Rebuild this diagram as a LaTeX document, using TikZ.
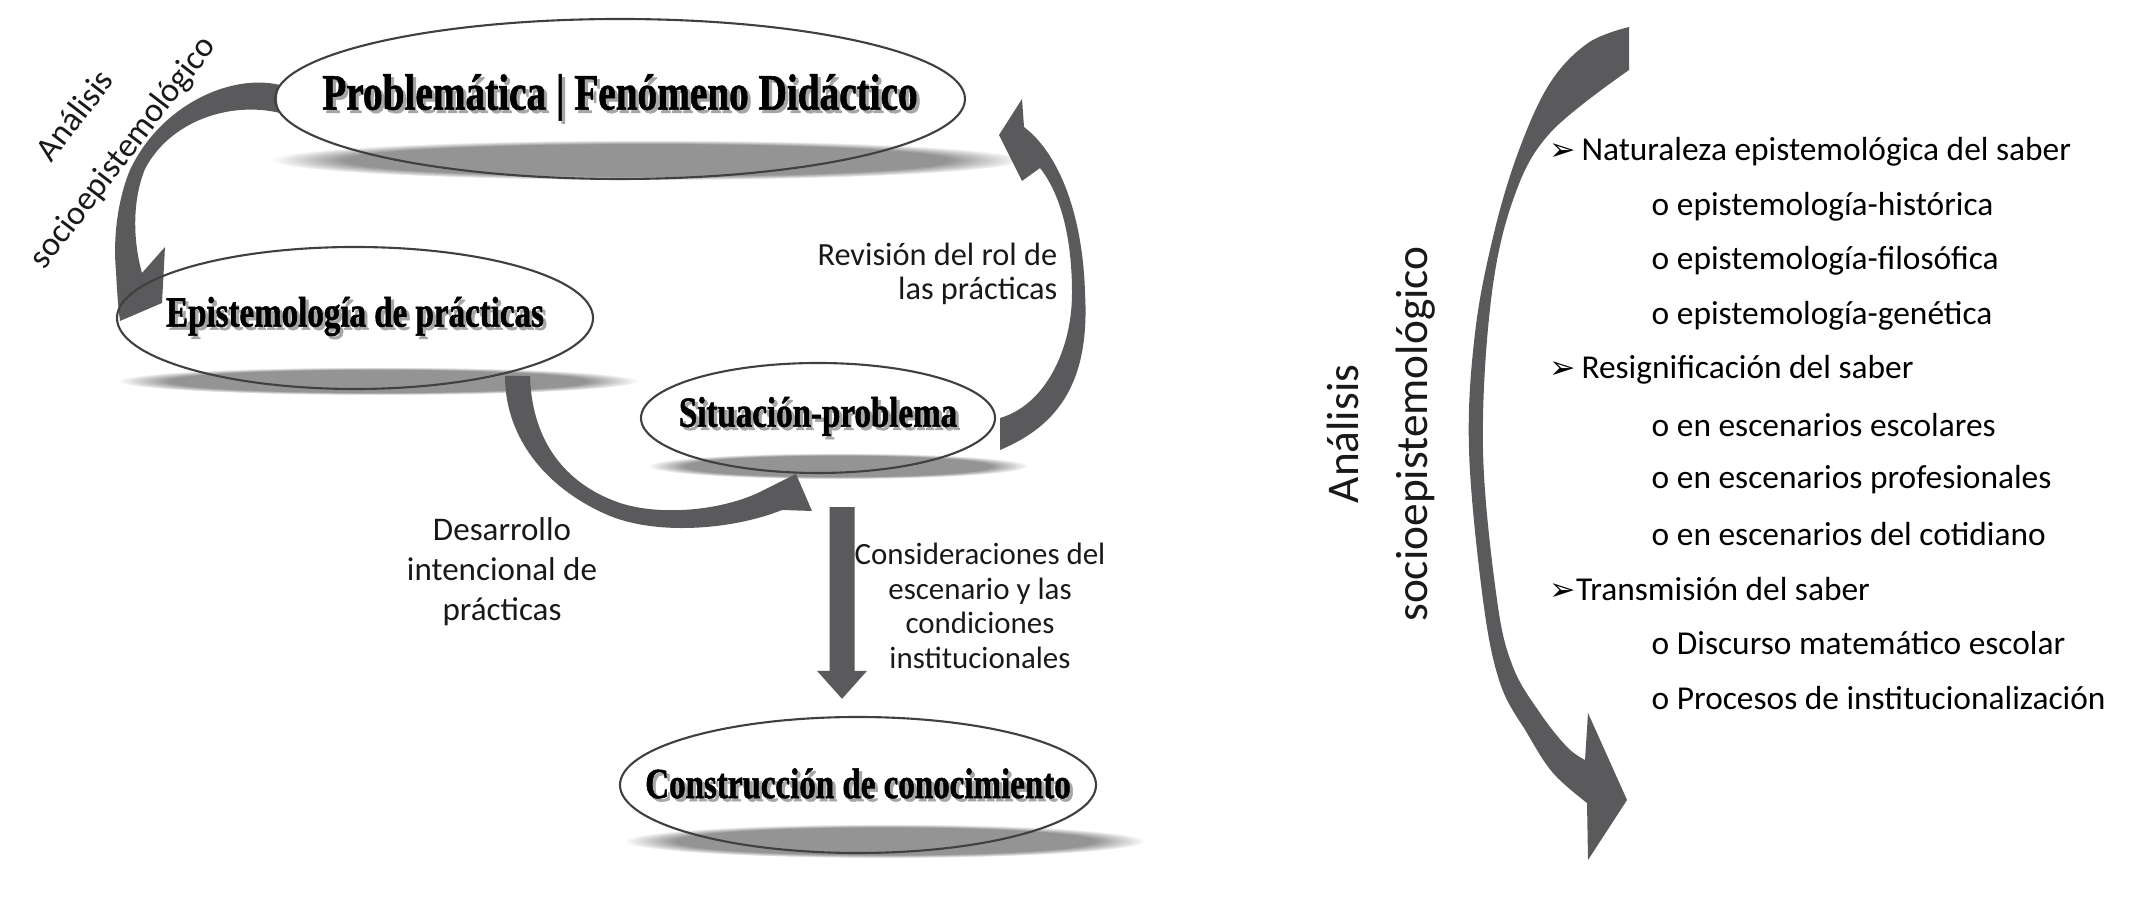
\documentclass[tikz,border=0pt]{standalone}
\usepackage{fontspec}
\setmainfont{Carlito}
\newfontfamily\slabfont[FakeStretch=0.77, BoldFeatures={FakeBold=1.2}]{Liberation Serif}
\newfontfamily\dingfont{DejaVu Sans}
\usepackage{tikz}
\usetikzlibrary{shapes.geometric, positioning, arrows.meta, backgrounds, fadings}
\definecolor{arrowgray}{RGB}{90,90,92}
\pgfdeclareradialshading{nodeglow}{\pgfpoint{0bp}{0bp}}{color(0bp)=(white); color(41bp)=(white); color(50bp)=(black!20)}
\newcommand{\sdw}[1]{\makebox[0pt]{\rlap{\hspace{0.9pt}\raisebox{-0.9pt}{\color{black!35}#1}}#1}}
\newcommand{\mk}{{\dingfont\fontsize{9}{9}\selectfont ➢}}

\begin{document}
\begin{tikzpicture}[
    idea/.style={ellipse, draw=black!75, line width=0.6pt, inner sep=0pt,
        font=\slabfont\bfseries\fontsize{12.2}{14}\selectfont},
    glow/.style={shading=nodeglow},
    shadowband/.style={fill=black!42, path fading=circle with fuzzy edge 20 percent},
    note/.style={align=center, inner sep=0pt, text=black!90},
    lst/.style={anchor=west, inner sep=0pt, font=\fontsize{9.5}{11}\selectfont},
    bar/.style={arrowgray, line width=0.25cm, -{Triangle[width=0.48cm, length=0.28cm]}}
]
\useasboundingbox (0,0) rectangle (21.31,9.01);

\node[idea, minimum width=6.9cm, minimum height=1.6cm,
    font=\slabfont\bfseries\fontsize{14.5}{16}\selectfont] (prob) at (6.20,8.02) {\sdw{Problemática | Fenómeno Didáctico}};
\node[idea, minimum width=4.76cm, minimum height=1.42cm] (epi) at (3.55,5.83) {\sdw{Epistemología de prácticas}};
\node[idea, minimum width=3.54cm, minimum height=1.10cm] (sit) at (8.18,4.83) {\sdw{Situación-problema}};
\node[idea, minimum width=4.76cm, minimum height=1.36cm] (con) at (8.58,1.16) {\sdw{Construcción de conocimiento}};

\node[note, rotate=52.5, font=\fontsize{9.7}{17}\selectfont] (lblsocio) at (1.00,7.66) {Análisis\\socioepistemológico};
\node[note, align=right, anchor=east, font=\fontsize{9.2}{9.6}\selectfont] (lblrev) at (10.58,6.27) {Revisión del rol de\\las prácticas};
\node[note, font=\fontsize{9.4}{11.4}\selectfont] (lbldes) at (5.02,3.29) {Desarrollo\\intencional de\\prácticas};
\node[note, font=\fontsize{8.8}{9.8}\selectfont] (lblcon) at (9.80,2.95) {Consideraciones del\\escenario y las\\condiciones\\institucionales};

\draw[bar] ([xshift=0.24cm,yshift=-0.33cm]sit.south) -- ([xshift=-0.16cm,yshift=0.17cm]con.north);

\begin{scope}[on background layer]
    \shade[glow] (prob.center) ellipse [x radius=3.45cm, y radius=0.8cm];
    \shade[glow] (epi.center) ellipse [x radius=2.38cm, y radius=0.71cm];
    \shade[glow] (sit.center) ellipse [x radius=1.77cm, y radius=0.55cm];
    \shade[glow] (con.center) ellipse [x radius=2.38cm, y radius=0.68cm];

    \fill[shadowband] ([xshift=0.27cm,yshift=-0.61cm]prob.center) ellipse [x radius=3.75cm, y radius=0.2cm];
    \fill[shadowband] ([xshift=0.23cm,yshift=-0.63cm]epi.center) ellipse [x radius=2.6cm, y radius=0.14cm];
    \fill[shadowband] ([xshift=0.20cm,yshift=-0.48cm]sit.center) ellipse [x radius=1.9cm, y radius=0.13cm];
    \fill[shadowband] ([xshift=0.27cm,yshift=-0.56cm]con.center) ellipse [x radius=2.6cm, y radius=0.17cm];

    % curved arrows
    \fill[arrowgray] (2.80,8.16) .. controls (2.30,8.28) and (1.60,7.95) .. (1.30,7.31)
        .. controls (1.17,7.00) and (1.13,6.60) .. (1.16,6.30) .. controls (1.17,6.10) and (1.18,5.95) .. (1.20,5.80)
        -- (1.62,5.98) -- (1.65,6.54) -- (1.42,6.28)
        .. controls (1.33,6.60) and (1.32,7.00) .. (1.45,7.32) .. controls (1.70,7.80) and (2.30,8.00) .. (2.80,7.88)
        .. controls (2.76,7.98) and (2.76,8.06) .. (2.80,8.16) -- cycle;
    \fill[arrowgray] (5.05,5.25) .. controls (5.05,4.60) and (5.50,4.10) .. (6.10,3.85)
        .. controls (6.60,3.65) and (7.35,3.72) .. (7.82,3.91) -- (8.12,3.90) -- (7.96,4.27) -- (7.60,4.09)
        .. controls (7.20,3.90) and (6.60,3.85) .. (6.20,3.98) .. controls (5.70,4.15) and (5.32,4.55) .. (5.30,5.25) -- cycle;
    \fill[arrowgray] (10.00,4.51) .. controls (10.60,4.76) and (10.90,5.21) .. (10.85,6.08)
        .. controls (10.83,6.80) and (10.62,7.45) .. (10.24,7.74) -- (10.22,8.02) -- (9.99,7.66) -- (10.22,7.20) -- (10.40,7.33)
        .. controls (10.62,7.05) and (10.72,6.60) .. (10.72,6.08) .. controls (10.72,5.51) and (10.45,4.96) .. (10.00,4.83) -- cycle;
    \fill[arrowgray] (16.29,8.74) -- plot[smooth, tension=0.6] coordinates {(16.29,8.74) (15.88,8.58) (15.50,8.18) (15.19,7.51)
        (14.94,6.68) (14.75,5.68) (14.69,4.51) (14.83,3.01) (15.00,2.18) (15.27,1.68) (15.53,1.28) (15.87,0.98)}
        -- (15.88,0.41) -- (16.27,1.01) -- (15.88,1.88)
        -- plot[smooth, tension=0.6] coordinates {(15.85,1.41) (15.67,1.54) (15.40,1.88) (15.13,2.34) (14.97,3.01)
        (14.83,4.51) (14.91,6.01) (15.13,7.01) (15.50,7.68) (16.29,8.31)} -- cycle;
\end{scope}

\node[note, rotate=90, font=\fontsize{12.9}{19.6}\selectfont] (lblright) at (13.81,4.67) {Análisis\\socioepistemológico};

\node[lst] (nat) at (15.49,7.49) {\mk\hspace{1.5pt}Naturaleza epistemológica del saber};
\node[lst] (nat1) at (16.51,6.944) {o epistemología-histórica};
\node[lst] (nat2) at (16.51,6.40) {o epistemología-filosófica};
\node[lst] (nat3) at (16.51,5.85) {o epistemología-genética};
\node[lst] (res) at (15.49,5.31) {\mk\hspace{1.5pt}Resignificación del saber};
\node[lst] (res1) at (16.51,4.76) {o en escenarios escolares};
\node[lst] (res2) at (16.51,4.21) {o en escenarios profesionales};
\node[lst] (res3) at (16.51,3.67) {o en escenarios del cotidiano};
\node[lst] (tra) at (15.49,3.12) {\mk Transmisión del saber};
\node[lst] (tra1) at (16.51,2.58) {o Discurso matemático escolar};
\node[lst] (tra2) at (16.51,2.03) {o Procesos de institucionalización};
\end{tikzpicture}
\end{document}
